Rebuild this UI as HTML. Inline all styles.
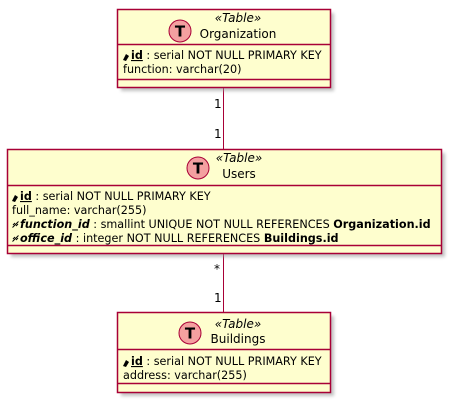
<!DOCTYPE html>
<html><head><meta charset="utf-8"><style>
html,body{margin:0;padding:0;background:#fff;}
svg{display:block;}
text{font-family:"DejaVu Sans","Liberation Sans",sans-serif;font-size:11.2px;fill:#000;}
.st{font-style:italic;}
.b{font-weight:bold;}
.bi{font-weight:bold;font-style:italic;}
.t{font-size:12px;}
</style></head><body>
<svg width="451" height="402" viewBox="0 0 451 402" xmlns="http://www.w3.org/2000/svg">
<defs><filter id="sh" x="-10%" y="-10%" width="120%" height="130%"><feGaussianBlur stdDeviation="1.5"/></filter></defs>
<line x1="223.5" y1="87" x2="223.5" y2="149" stroke="#A80036" stroke-width="1"/>
<line x1="223.5" y1="253" x2="223.5" y2="312" stroke="#A80036" stroke-width="1"/>
<text x="214" y="108" class="t">1</text>
<text x="214" y="138" class="t">1</text>
<text x="214" y="273" class="t">*</text>
<text x="214" y="302" class="t">1</text>

<!-- Organization -->
<rect x="121" y="13" width="213" height="78" fill="#999" opacity="0.6" filter="url(#sh)"/>
<rect x="117.5" y="9.5" width="213" height="78" fill="#FEFECE" stroke="#A80036" stroke-width="1.5"/>
<line x1="117.5" y1="44.5" x2="330.5" y2="44.5" stroke="#A80036" stroke-width="1.5"/>
<line x1="117.5" y1="79.5" x2="330.5" y2="79.5" stroke="#A80036" stroke-width="1.5"/>
<circle cx="180" cy="31" r="11" fill="#F4A0A0" stroke="#A80036" stroke-width="1"/>
<text x="180" y="36.5" text-anchor="middle" class="b" style="font-size:15px">T</text>
<text x="238" y="22" text-anchor="middle" class="st t">«Table»</text>
<text x="238" y="38" text-anchor="middle" class="t">Organization</text>
<path d="M123 60 l3 -6 l3 2 l-3 5 z" fill="#000"/>
<text x="131" y="59"><tspan class="b" text-decoration="underline">id</tspan> : serial NOT NULL PRIMARY KEY</text>
<text x="123" y="73">function: varchar(20)</text>

<!-- Users -->
<rect x="11" y="153" width="434" height="104" fill="#999" opacity="0.6" filter="url(#sh)"/>
<rect x="7.5" y="149.5" width="434" height="104" fill="#FEFECE" stroke="#A80036" stroke-width="1.5"/>
<line x1="7.5" y1="185.5" x2="441.5" y2="185.5" stroke="#A80036" stroke-width="1.5"/>
<line x1="7.5" y1="245.5" x2="441.5" y2="245.5" stroke="#A80036" stroke-width="1.5"/>
<circle cx="198" cy="168" r="11" fill="#F4A0A0" stroke="#A80036" stroke-width="1"/>
<text x="198" y="173.5" text-anchor="middle" class="b" style="font-size:15px">T</text>
<text x="239" y="162" text-anchor="middle" class="st t">«Table»</text>
<text x="239" y="178" text-anchor="middle" class="t">Users</text>
<path d="M12 201 l3 -6 l3 2 l-3 5 z" fill="#000"/>
<text x="20" y="200"><tspan class="b" text-decoration="underline">id</tspan> : serial NOT NULL PRIMARY KEY</text>
<text x="12" y="214">full_name: varchar(255)</text>
<path d="M12.5 227.5 l6 -6 M13 225 l2 -2 M16 226 l2 -2" stroke="#000" stroke-width="1" fill="none"/>
<text x="20" y="228"><tspan class="bi">function_id</tspan> : smallint UNIQUE NOT NULL REFERENCES <tspan class="b">Organization.id</tspan></text>
<path d="M12.5 241.5 l6 -6 M13 239 l2 -2 M16 240 l2 -2" stroke="#000" stroke-width="1" fill="none"/>
<text x="20" y="242"><tspan class="bi">office_id</tspan> : integer NOT NULL REFERENCES <tspan class="b">Buildings.id</tspan></text>

<!-- Buildings -->
<rect x="121" y="316" width="213" height="80" fill="#999" opacity="0.6" filter="url(#sh)"/>
<rect x="117.5" y="312.5" width="213" height="80" fill="#FEFECE" stroke="#A80036" stroke-width="1.5"/>
<line x1="117.5" y1="349.5" x2="330.5" y2="349.5" stroke="#A80036" stroke-width="1.5"/>
<line x1="117.5" y1="383.5" x2="330.5" y2="383.5" stroke="#A80036" stroke-width="1.5"/>
<circle cx="190" cy="333" r="11" fill="#F4A0A0" stroke="#A80036" stroke-width="1"/>
<text x="190" y="338.5" text-anchor="middle" class="b" style="font-size:15px">T</text>
<text x="238" y="328" text-anchor="middle" class="st t">«Table»</text>
<text x="238" y="343" text-anchor="middle" class="t">Buildings</text>
<path d="M123 366 l3 -6 l3 2 l-3 5 z" fill="#000"/>
<text x="131" y="365"><tspan class="b" text-decoration="underline">id</tspan> : serial NOT NULL PRIMARY KEY</text>
<text x="123" y="379">address: varchar(255)</text>
</svg>
</body></html>
